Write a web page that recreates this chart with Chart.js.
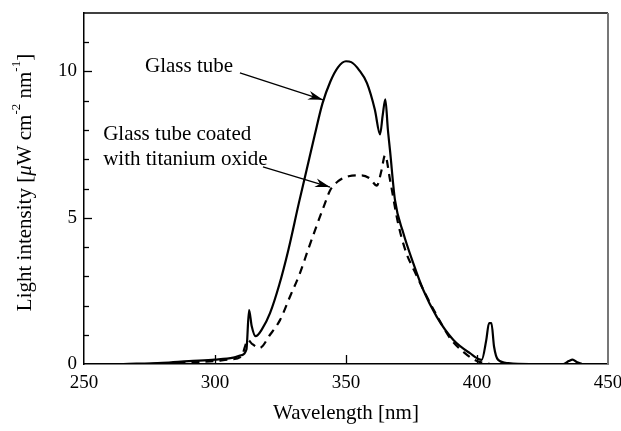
<!DOCTYPE html>
<html>
<head>
<meta charset="utf-8">
<script src="https://cdn.jsdelivr.net/npm/chart.js@4/dist/chart.umd.min.js"></script>
<style>body{margin:0;background:#fff}</style>
</head>
<body>
<canvas id="chart" width="621" height="431"></canvas>
<script>
// spectrum: wavelength [nm] / light intensity [uW cm-2 nm-1]
const glassWavelength = [265, 280, 290, 300, 307, 310, 312, 313, 314, 315.5, 318, 321, 324.5, 328, 332, 335, 338, 341, 344, 347, 350, 352, 355, 358, 361, 363, 364, 365, 366, 366.8, 368.7, 371.9, 375.7, 379.5, 384.6, 391, 397.3, 401.8, 403.5, 404.6, 405.5, 406.5, 408, 412, 420, 433, 435, 436.5, 438, 440]
const glassIntensity = [0, 0.04, 0.1, 0.15, 0.22, 0.3, 0.5, 1.84, 1.3, 0.95, 1.2, 1.74, 2.7, 3.9, 5.5, 6.65, 7.8, 8.9, 9.65, 10.15, 10.35, 10.32, 10.05, 9.6, 8.7, 7.85, 8.5, 9.05, 8.0, 7.3, 5.6, 4.47, 3.44, 2.53, 1.62, 0.82, 0.37, 0.14, 0.8, 1.4, 1.4, 0.6, 0.15, 0.03, 0, 0, 0.1, 0.15, 0.07, 0]

const coatedWavelength = [275, 290, 300, 305, 310, 312.6, 314, 317, 321, 324.8, 328.6, 332.4, 335.5, 339.3, 342, 344, 347, 351, 356, 359, 361.8, 363.5, 364.9, 366.8, 369.9, 373, 376, 380, 385, 390, 395, 400, 405]
const coatedIntensity = [0, 0.05, 0.1, 0.15, 0.25, 0.82, 0.7, 0.55, 1.0, 1.5, 2.3, 3.1, 3.9, 4.85, 5.5, 5.95, 6.25, 6.42, 6.45, 6.35, 6.1, 6.6, 7.14, 6.3, 4.8, 3.8, 3.2, 2.45, 1.6, 0.85, 0.4, 0.1, 0]

const xLabelled = [250, 300, 350, 400, 450]
const yLabelled = [0, 5, 10]

// callouts: text anchor and arrow in data coordinates
const notes = [
  {lines: ['Glass tube'], at: [273.3, 9.98], from: [309.5, 9.95], to: [341.2, 9.03]},
  {lines: ['Glass tube coated', 'with titanium oxide'], at: [257.3, 7.66], from: [318.3, 6.74], to: [343.9, 6.05]}
]

const serif = '"Liberation Serif", "Times New Roman", serif'

function pts(xs, ys) {
  return xs.map((w, i) => ({x: w, y: ys[i]}))
}

function arrow(ctx, x1, y1, x2, y2) {
  ctx.beginPath(); ctx.moveTo(x1, y1); ctx.lineTo(x2, y2); ctx.stroke()
  const ang = Math.atan2(y2 - y1, x2 - x1)
  const len = 15, half = 4.5
  ctx.save()
  ctx.translate(x2, y2); ctx.rotate(ang)
  ctx.beginPath()
  ctx.moveTo(0, 0); ctx.lineTo(-len, -half); ctx.lineTo(-len * 0.7, 0); ctx.lineTo(-len, half)
  ctx.closePath(); ctx.fill()
  ctx.restore()
}

const decorations = {
  id: 'decorations',
  afterDraw(chart) {
    const {ctx, chartArea: a, scales: {x, y}} = chart
    ctx.save()
    ctx.strokeStyle = '#000'; ctx.fillStyle = '#000'
    // frame top and right
    ctx.lineWidth = 1.5
    ctx.beginPath(); ctx.moveTo(a.left, a.top); ctx.lineTo(a.right, a.top); ctx.stroke()
    ctx.strokeStyle = '#777'; ctx.lineWidth = 2
    ctx.beginPath(); ctx.moveTo(a.right, a.top); ctx.lineTo(a.right, a.bottom); ctx.stroke()
    ctx.strokeStyle = '#000'; ctx.lineWidth = 1.3
    // ticks pointing inward
    for (let v = 1; v <= 11; v++) {
      const py = Math.round(y.getPixelForValue(v)) + 0.5
      const len = v % 5 === 0 ? 8 : 5
      ctx.beginPath(); ctx.moveTo(a.left, py); ctx.lineTo(a.left + len, py); ctx.stroke()
    }
    xLabelled.slice(1, -1).forEach(v => {
      const px = Math.round(x.getPixelForValue(v)) + 0.5
      ctx.beginPath(); ctx.moveTo(px, a.bottom); ctx.lineTo(px, a.bottom - 9); ctx.stroke()
    })
    // axis titles
    ctx.font = '21px ' + serif
    ctx.textAlign = 'center'; ctx.textBaseline = 'middle'
    ctx.fillText('Wavelength [nm]', (a.left + a.right) / 2, 413)
    const parts = [
      ['Light intensity [', '21px ' + serif, 0],
      ['\u03bc', 'italic 21px ' + serif, 0],
      ['W cm', '21px ' + serif, 0],
      ['-2', '13px ' + serif, -8],
      [' nm', '21px ' + serif, 0],
      ['-1', '13px ' + serif, -8],
      [']', '21px ' + serif, 0]
    ]
    let total = 0
    parts.forEach(p => { ctx.font = p[1]; total += ctx.measureText(p[0]).width })
    ctx.save()
    ctx.translate(25, (a.top + a.bottom) / 2 - 6)
    ctx.rotate(-Math.PI / 2)
    ctx.textAlign = 'left'; ctx.textBaseline = 'middle'
    let cx = -total / 2
    parts.forEach(p => {
      ctx.font = p[1]
      ctx.fillText(p[0], cx, p[2])
      cx += ctx.measureText(p[0]).width
    })
    ctx.restore()
    // callouts
    ctx.font = '21px ' + serif
    ctx.textAlign = 'left'; ctx.textBaseline = 'alphabetic'
    ctx.lineWidth = 1.3
    notes.forEach(n => {
      const tx = x.getPixelForValue(n.at[0]), ty = y.getPixelForValue(n.at[1])
      n.lines.forEach((t, i) => ctx.fillText(t, tx, ty + i * 25))
      arrow(ctx, x.getPixelForValue(n.from[0]), y.getPixelForValue(n.from[1]),
        x.getPixelForValue(n.to[0]), y.getPixelForValue(n.to[1]))
    })
    ctx.restore()
  }
}

new Chart(document.getElementById('chart'), {
  type: 'line',
  data: {
    datasets: [
      {
        label: 'Glass tube',
        data: pts(glassWavelength, glassIntensity),
        borderColor: '#000',
        borderWidth: 2.2,
        pointRadius: 0,
        cubicInterpolationMode: 'monotone',
        fill: false
      },
      {
        label: 'Glass tube coated with titanium oxide',
        data: pts(coatedWavelength, coatedIntensity),
        borderColor: '#000',
        borderWidth: 2.2,
        borderDash: [8, 6],
        pointRadius: 0,
        cubicInterpolationMode: 'monotone',
        fill: false
      }
    ]
  },
  options: {
    responsive: false,
    animation: false,
    layout: {padding: {top: 13, right: 13, left: 0, bottom: 0}},
    plugins: {legend: {display: false}, tooltip: {enabled: false}},
    scales: {
      x: {
        type: 'linear', min: 250, max: 450,
        afterBuildTicks: s => { s.ticks = xLabelled.map(v => ({value: v})) },
        afterFit: s => { s.height = 67; s.paddingLeft = 0; s.paddingRight = 0 },
        grid: {drawOnChartArea: false, drawTicks: false},
        border: {color: '#000', width: 1.5},
        ticks: {color: '#000', padding: 8, maxRotation: 0, font: {family: serif, size: 19}}
      },
      y: {
        min: 0, max: 12,
        afterBuildTicks: s => { s.ticks = yLabelled.map(v => ({value: v})) },
        afterFit: s => { s.width = 84; s.paddingTop = 0; s.paddingBottom = 0 },
        grid: {drawOnChartArea: false, drawTicks: false},
        border: {color: '#000', width: 1.5},
        ticks: {color: '#000', padding: 7, font: {family: serif, size: 19}}
      }
    }
  },
  plugins: [decorations]
})
</script>
</body>
</html>
